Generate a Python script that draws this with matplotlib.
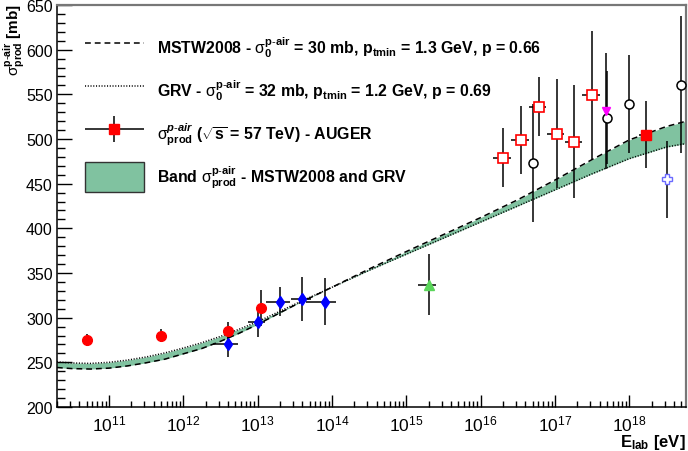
import numpy as np
import matplotlib
matplotlib.use('Agg')
import matplotlib.pyplot as plt
from matplotlib.ticker import LogLocator, FuncFormatter, MultipleLocator, NullFormatter
from matplotlib.patches import Patch
from matplotlib.lines import Line2D
from matplotlib.legend_handler import HandlerErrorbar

plt.rcParams['font.family'] = ['Liberation Sans', 'DejaVu Sans']
plt.rcParams['mathtext.fontset'] = 'custom'
plt.rcParams['mathtext.rm'] = 'Liberation Sans'
plt.rcParams['mathtext.bf'] = 'Liberation Sans:bold'
plt.rcParams['mathtext.it'] = 'Liberation Sans:italic:bold'
plt.rcParams['mathtext.sf'] = 'Liberation Sans'

# model curves (log10 of E_lab in eV) and sigma in mb
curve_loge = [10.3, 10.5, 10.75, 11, 11.25, 11.5, 11.75, 12, 12.25, 12.5, 12.75, 13,
              13.5, 14, 14.5, 15, 15.5, 16, 16.5, 17, 17.5, 18, 18.5, 18.77]
grv_sigma = [250.5, 249.3, 248.8, 250, 252.5, 256, 260.5, 266, 272, 279, 287, 295.5,
             315, 334, 353, 371, 389, 407, 425, 443, 461, 478, 491, 495]
mstw_sigma = [244.2, 243, 242.5, 243.5, 246, 249.5, 253.5, 259.5, 265.5, 273.5, 282.5, 292.5,
              314, 334, 354.5, 374, 393, 412, 432, 454, 477, 499, 514, 520]

# red filled circles
red_e = [5e10, 5e11, 4e12, 1.1e13]
red_s = [275, 280, 285, 311]
red_yerr = [7, 7.5, 10, 20]

# blue diamonds
blue_e = [4e12, 1e13, 2e13, 4e13, 8e13]
blue_s = [271, 295, 318, 321, 318]
blue_xerr = [1.5e12, 2.5e12, 0.7e13, 1.2e13, 3.5e13]
blue_yerr = [15, 17, 16, 25, 26]

# green triangle
green_e = [2e15]
green_s = [337]
green_xerr = [0.55e15]
green_yerr = [34]

# red open squares
sq_e = [2e16, 3.5e16, 6.1e16, 1.06e17, 1.83e17, 3.17e17]
sq_s = [479, 499, 536, 506, 497, 549]
sq_xerr = [0.55e16, 0.95e16, 1.6e16, 2.8e16, 4.8e16, 8.5e16]
sq_yerr = [33, 38, 33, 61, 63, 72]

# black open circles
circ_e = [5e16, 5e17, 1e18, 5e18]
circ_s = [473, 524, 539, 561]
circ_yerr = [66, 52, 55, 77]

# magenta triangle
mag_e = [4.8e17]
mag_s = [531]
mag_yerr = [65]

# AUGER
aug_e = [1.7e18]
aug_s = [505]
aug_xerr = [0.35e18]
aug_yerr = [38]

# blue open cross
cross_e = [3.2e18]
cross_s = [455]
cross_yerr = [43]

xtick_exp = [11, 12, 13, 14, 15, 16, 17, 18]

band_color = '#80c2a0'

fig = plt.figure(figsize=(6.88, 4.52), dpi=100)
ax = fig.add_axes([57 / 688, 44 / 452, 629 / 688, 402 / 452])

curve_e = 10 ** np.array(curve_loge)
ax.fill_between(curve_e, grv_sigma, mstw_sigma, color=band_color, lw=0, zorder=1)
ax.plot(curve_e, mstw_sigma, color='black', lw=1.1, dashes=(3.8, 2.6), zorder=2)
ax.plot(curve_e, grv_sigma, color='black', lw=1.1, dashes=(0.7, 1.1), zorder=2)

ekw = dict(ecolor='black', elinewidth=1.1, capsize=0, linestyle='none', zorder=3)
ax.errorbar(red_e, red_s, yerr=red_yerr, fmt='o', color='red', ms=7, **ekw)
ax.errorbar(blue_e, blue_s, xerr=blue_xerr, yerr=blue_yerr, fmt='d', color='blue', ms=6, **ekw)
ax.errorbar(green_e, green_s, xerr=green_xerr, yerr=green_yerr, fmt='^', color='#5ad65a', ms=7, **ekw)
ax.errorbar(sq_e, sq_s, xerr=sq_xerr, yerr=sq_yerr, fmt='s', mfc='white', mec='red', mew=1.2, ms=6.5, **ekw)
ax.errorbar(circ_e, circ_s, yerr=circ_yerr, fmt='o', mfc='white', mec='black', mew=1.1, ms=6.5, **ekw)
ax.errorbar(mag_e, mag_s, yerr=mag_yerr, fmt='v', color='magenta', ms=5.5, **ekw)
aug = ax.errorbar(aug_e, aug_s, xerr=aug_xerr, yerr=aug_yerr, fmt='s', color='red', ms=6.5, **ekw)
ax.errorbar(cross_e, cross_s, yerr=cross_yerr, fmt='P', mfc='white', mec='#6a6aff', mew=1.0, ms=7.5, **ekw)

ax.set_xscale('log')
ax.set_xlim(2e10, 5.8e18)
ax.set_ylim(200, 650)

ax.set_xticks([10.0 ** e for e in xtick_exp])
ax.set_xticklabels([r"$\mathrm{10^{%d}}$" % e for e in xtick_exp])
ax.xaxis.set_minor_locator(LogLocator(base=10, subs=np.arange(2, 10), numticks=20))
ax.xaxis.set_minor_formatter(NullFormatter())
ax.yaxis.set_major_locator(MultipleLocator(50))
ax.yaxis.set_minor_locator(MultipleLocator(10))

ax.tick_params(axis='x', which='major', direction='in', length=9, width=1, labelsize=12.5, pad=5)
ax.tick_params(axis='x', which='minor', direction='in', length=4.5, width=1)
ax.tick_params(axis='y', which='major', direction='in', length=11, width=1, labelsize=11.5, pad=3)
ax.tick_params(axis='y', which='minor', direction='in', length=5.5, width=1)
ax.tick_params(top=False, right=False, which='both')

for s in ['left', 'bottom']:
    ax.spines[s].set_linewidth(1.1)
for s in ['top', 'right']:
    ax.spines[s].set_color('#777777')
    ax.spines[s].set_linewidth(1.6)

ax.set_ylabel(r"$\mathrm{\sigma}^{\mathbf{p}\text{-}\mathbf{air}}_{\mathbf{prod}}$ [mb]",
              loc='top', fontsize=11, fontweight='bold')
ax.yaxis.set_label_coords(-0.047, 1.006)
ax.set_xlabel(r"E$_{\mathbf{lab}}$ [eV]", loc='right', fontsize=12, fontweight='bold')
ax.xaxis.set_label_coords(1.0, -0.063)
ax.xaxis.label.set_va('top')

lab_mstw = r"MSTW2008 - $\mathrm{\sigma}_{\mathbf{0}}^{\mathbf{p}\text{-}\mathbf{air}}$ = 30 mb, p$_{\mathbf{tmin}}$ = 1.3 GeV, p = 0.66"
lab_grv = r"GRV - $\mathrm{\sigma}_{\mathbf{0}}^{\mathbf{p}\text{-}\mathbf{air}}$ = 32 mb, p$_{\mathbf{tmin}}$ = 1.2 GeV, p = 0.69"
lab_aug = r"$\mathrm{\sigma}_{\mathbf{prod}}^{\mathit{p}\text{-}\mathit{air}}$ ($\sqrt{\mathbf{s}}$ = 57 TeV) - AUGER"
lab_band = r"Band $\mathrm{\sigma}_{\mathbf{prod}}^{\mathbf{p}\text{-}\mathbf{air}}$ - MSTW2008 and GRV"

h_mstw = Line2D([], [], color='black', lw=1.1, dashes=(3.8, 2.6))
h_grv = Line2D([], [], color='black', lw=1.1, dashes=(0.7, 1.1))
h_band = Patch(facecolor=band_color, edgecolor='#333333', lw=1)

fs = 11.4
leg = ax.legend([h_mstw, h_grv, aug, h_band], [lab_mstw, lab_grv, lab_aug, lab_band],
                loc='upper left', bbox_to_anchor=(0.0445, 0.931), borderpad=0, borderaxespad=0,
                frameon=False, prop={'weight': 'bold', 'size': fs},
                handlelength=3.7, handleheight=2.55, handletextpad=0.85, labelspacing=0.82,
                numpoints=1, handler_map={aug: HandlerErrorbar(xerr_size=1.85, yerr_size=0.8)})

fig.savefig('out.png', dpi=100)
